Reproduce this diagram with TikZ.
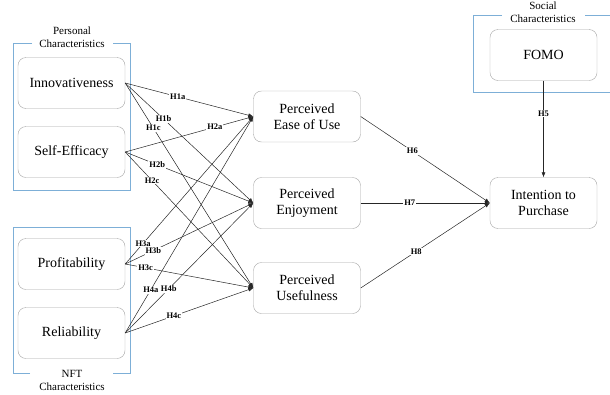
\documentclass[tikz,border=0pt]{standalone}
\usepackage{fontspec}
\setmainfont{Liberation Serif}
\usetikzlibrary{arrows.meta}
\definecolor{groupblue}{RGB}{125,175,215}
\definecolor{boxgray}{RGB}{165,165,165}
\begin{document}
\begin{tikzpicture}[x=1pt,y=-1pt,
		construct/.style={draw=boxgray,rounded corners=8pt,minimum width=107pt,minimum height=51pt,align=center,font=\fontsize{14}{16}\selectfont},
		hpath/.style={draw=black!85,line width=0.5pt,-{Latex[length=5pt,width=4pt]}},
		hyp/.style={fill=white,inner sep=1pt,font=\fontsize{8.5}{9}\selectfont\bfseries},
		groupline/.style={draw=groupblue,line width=1pt},
		grouptitle/.style={align=center,font=\fontsize{11}{13}\selectfont}]
		\useasboundingbox (0,0) rectangle (610,394);
		% constructs
		\node[construct] (inno) at (71.5,83) {Innovativeness};
		\node[construct] (self) at (71.5,152) {Self-Efficacy};
		\node[construct] (prof) at (71.5,264) {Profitability};
		\node[construct] (reli) at (71.5,333) {Reliability};
		\node[construct] (peou) at (307,116.5) {Perceived\\Ease of Use};
		\node[construct] (penj) at (307,203) {Perceived\\Enjoyment};
		\node[construct] (puse) at (307,288) {Perceived\\Usefulness};
		\node[construct] (itp) at (543.5,203) {Intention to\\Purchase};
		\node[construct] (fomo) at (543.5,55) {FOMO};
		% groups
		\draw[groupline] (32,43) -- (13,43) -- (13,190) -- (130,190) -- (130,43) -- (113,43);
		\node[grouptitle] (personal) at (72,37.5) {Personal\\Characteristics};
		\draw[groupline] (30,373) -- (13,373) -- (13,227) -- (130,227) -- (130,373) -- (113,373);
		\node[grouptitle] (nft) at (72,380) {NFT\\Characteristics};
		\draw[groupline] (502,15) -- (473,15) -- (473,92) -- (610,92);
		\draw[groupline] (585,15) -- (610,15);
		\node[grouptitle] (social) at (543,12.5) {Social\\Characteristics};
		% hypotheses
		\draw[hpath] (inno.east) -- node[hyp,pos=.41] {H1a} (peou.west);
		\draw[hpath] (inno.east) -- node[hyp,pos=.30] {H1b} (penj.west);
		\draw[hpath] (inno.east) -- node[hyp,pos=.22] {H1c} (puse.west);
		\draw[hpath] (self.east) -- node[hyp,pos=.70] {H2a} (peou.west);
		\draw[hpath] (self.east) -- node[hyp,pos=.25] {H2b} (penj.west);
		\draw[hpath] (self.east) -- node[hyp,pos=.21] {H2c} (puse.west);
		\draw[hpath] (prof.east) -- node[hyp,pos=.14] {H3a} (peou.west);
		\draw[hpath] (prof.east) -- node[hyp,pos=.22] {H3b} (penj.west);
		\draw[hpath] (prof.east) -- node[hyp,pos=.16] {H3c} (puse.west);
		\draw[hpath] (reli.east) -- node[hyp,pos=.20] {H4a} (peou.west);
		\draw[hpath] (reli.east) -- node[hyp,pos=.34] {H4b} (penj.west);
		\draw[hpath] (reli.east) -- node[hyp,pos=.38] {H4c} (puse.west);
		\draw[hpath] (fomo.south) -- node[hyp,pos=.34] {H5} (itp.north);
		\draw[hpath] (peou.east) -- node[hyp,pos=.40] {H6} (itp.west);
		\draw[hpath] (penj.east) -- node[hyp,pos=.38] {H7} (itp.west);
		\draw[hpath] (puse.east) -- node[hyp,pos=.43] {H8} (itp.west);
\end{tikzpicture}
\end{document}
